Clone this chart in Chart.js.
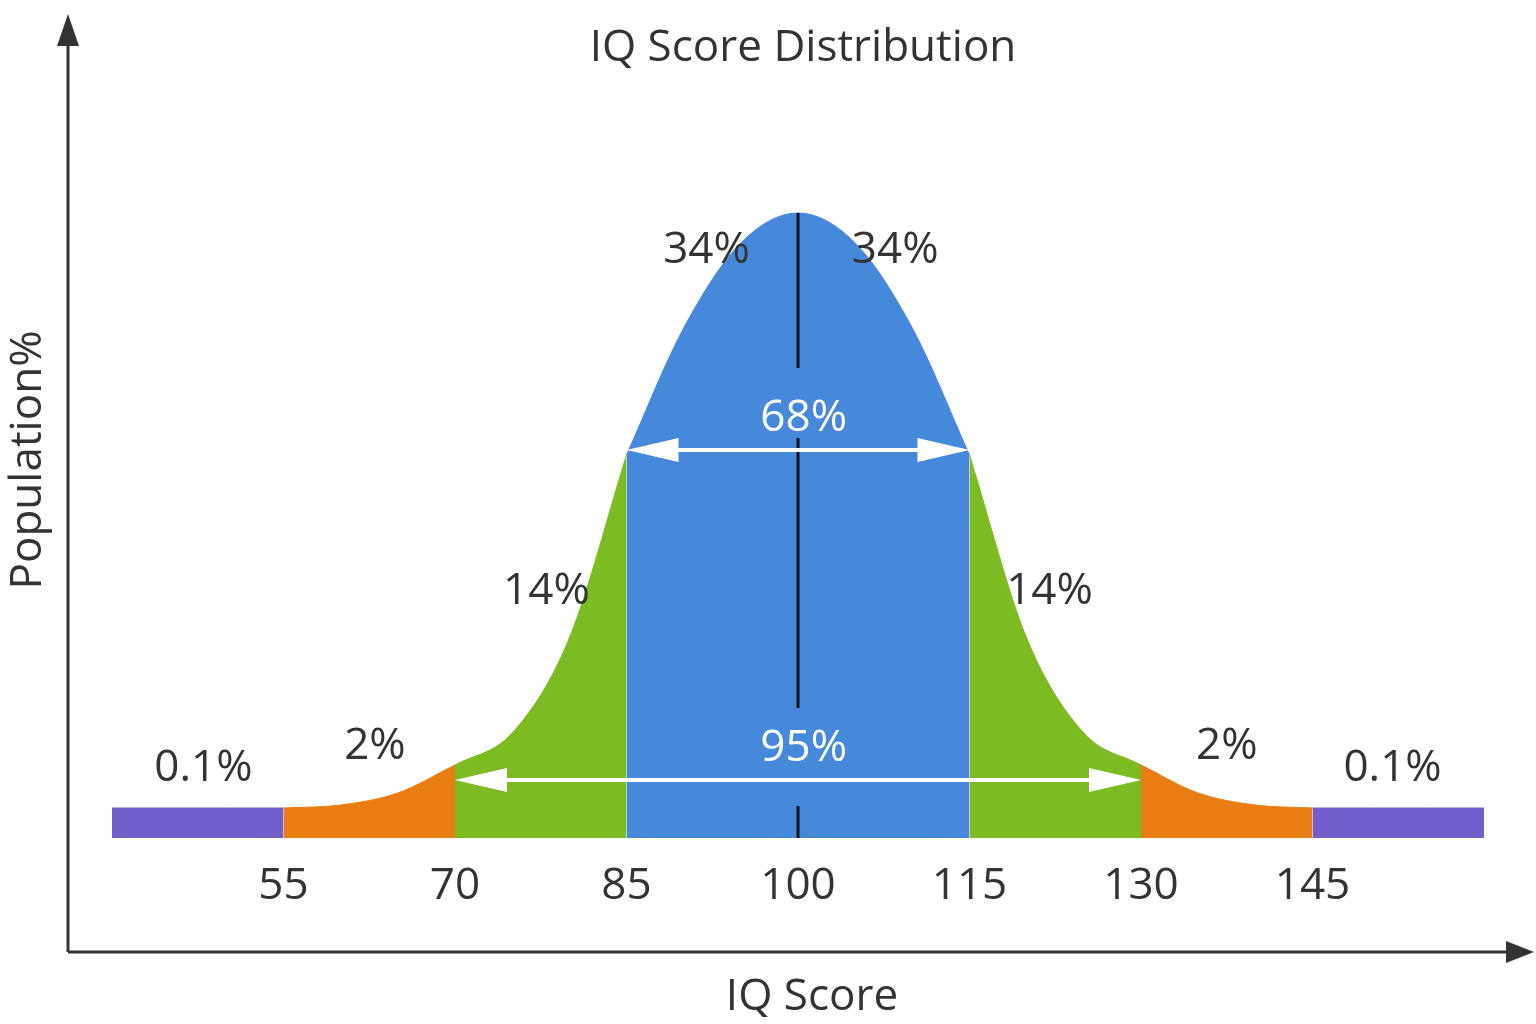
<!DOCTYPE html>
<html><head><meta charset="utf-8">
<script src="https://cdn.jsdelivr.net/npm/chart.js@4"></script>
<style>html,body{margin:0;background:#fff}#w{width:1536px;height:1024px}</style>
</head><body><div id="w"><canvas id="c"></canvas></div>
<script>
const title = "IQ Score Distribution";
const xTitle = "IQ Score";
const yTitle = "Population%";
const scores = [40,45,50,55,60,65,70,75,80,85,90,95,100,105,110,115,120,125,130,135,140,145,150,155,160];
const heights = [30,30,30,30,33,45,73,105,200,383,510,595,625,595,510,383,200,105,73,45,33,30,30,30,30];
const tickLabels = [55,70,85,100,115,130,145];
const segments = [
  {from:40,to:55,color:"#735FCB"},{from:55,to:70,color:"#E87D14"},
  {from:70,to:85,color:"#7CBB22"},{from:85,to:115,color:"#4689DB"},
  {from:115,to:130,color:"#7CBB22"},{from:130,to:145,color:"#E87D14"},
  {from:145,to:160,color:"#735FCB"}];
const pctLabels = [
  {x:48,y:70,t:"0.1%",c:"#333"},{x:63,y:92,t:"2%",c:"#333"},
  {x:78,y:247,t:"14%",c:"#333"},{x:92,y:588,t:"34%",c:"#333"},
  {x:108.5,y:588,t:"34%",c:"#333"},{x:122,y:247,t:"14%",c:"#333"},
  {x:137.5,y:92,t:"2%",c:"#333"},{x:152,y:70,t:"0.1%",c:"#333"},
  {x:100.5,y:420,t:"68%",c:"#fff"},{x:100.5,y:90,t:"95%",c:"#fff"}];

const datasets = segments.map(s=>({
  data: scores.map((x,i)=>({x,y:heights[i]})).filter(p=>p.x>=s.from&&p.x<=s.to),
  backgroundColor:s.color,borderColor:s.color,borderWidth:1,fill:'origin',
  pointRadius:0,cubicInterpolationMode:'monotone'}));
const F = '"Open Sans","Noto Sans",sans-serif';

function arrow(ctx,x1,x2,y){
  ctx.strokeStyle='#fff';ctx.fillStyle='#fff';ctx.lineWidth=4;
  ctx.beginPath();ctx.moveTo(x1+40,y);ctx.lineTo(x2-40,y);ctx.stroke();
  [[x1,1],[x2,-1]].forEach(([x,d])=>{ctx.beginPath();ctx.moveTo(x,y);ctx.lineTo(x+d*52,y-12);ctx.lineTo(x+d*52,y+12);ctx.closePath();ctx.fill();});
}
const deco = {id:'deco',afterDatasetsDraw(ch){
  const ctx=ch.ctx,xs=ch.scales.x,ys=ch.scales.y;
  ctx.save();
  const cx=xs.getPixelForValue(100);
  ctx.strokeStyle='#111';ctx.lineWidth=3;
  [[625,470],[400,130],[32,0]].forEach(([a,b])=>{ctx.beginPath();ctx.moveTo(cx,ys.getPixelForValue(a));ctx.lineTo(cx,ys.getPixelForValue(b));ctx.stroke();});
  arrow(ctx,xs.getPixelForValue(85),xs.getPixelForValue(115),ys.getPixelForValue(388));
  arrow(ctx,xs.getPixelForValue(70),xs.getPixelForValue(130),ys.getPixelForValue(58));
  ctx.textAlign='center';ctx.textBaseline='middle';
  ctx.font='44px '+F;
  pctLabels.forEach(l=>{ctx.fillStyle=l.c;ctx.fillText(l.t,xs.getPixelForValue(l.x),ys.getPixelForValue(l.y));});
  ctx.fillStyle='#333';
  tickLabels.forEach(v=>ctx.fillText(String(v),xs.getPixelForValue(v),886));
  ctx.fillText(title,803,48);
  ctx.fillText(xTitle,812,997);
  ctx.save();ctx.translate(28,460);ctx.rotate(-Math.PI/2);ctx.fillText(yTitle,0,0);ctx.restore();
  // axes
  ctx.strokeStyle='#333';ctx.fillStyle='#333';ctx.lineWidth=3;
  ctx.beginPath();ctx.moveTo(68,952);ctx.lineTo(68,40);ctx.moveTo(68,952);ctx.lineTo(1510,952);ctx.stroke();
  ctx.beginPath();ctx.moveTo(68,14);ctx.lineTo(57,46);ctx.lineTo(79,46);ctx.closePath();ctx.fill();
  ctx.beginPath();ctx.moveTo(1534,952);ctx.lineTo(1506,941);ctx.lineTo(1506,963);ctx.closePath();ctx.fill();
  ctx.restore();
}};
new Chart(document.getElementById('c'),{type:'line',data:{datasets},
  options:{responsive:true,maintainAspectRatio:false,animation:false,
    layout:{padding:{left:112,right:52,top:138,bottom:186}},
    plugins:{legend:{display:false},tooltip:{enabled:false}},
    scales:{x:{type:'linear',min:40,max:160,display:false},y:{min:0,max:700,display:false}}},
  plugins:[deco]});
</script></body></html>
